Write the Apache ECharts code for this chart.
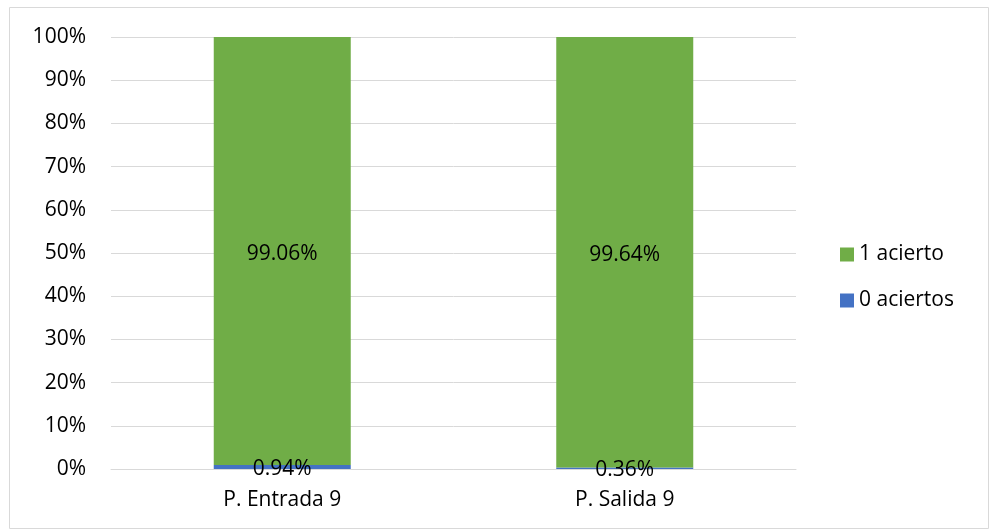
<!DOCTYPE html>
<html>
<head>
<meta charset="utf-8">
<script src="https://cdn.jsdelivr.net/npm/echarts@6/dist/echarts.min.js"></script>
<style>
  html, body { margin: 0; padding: 0; background: #fff; }
  #chart { width: 990px; height: 531px; }
</style>
</head>
<body>
<div id="chart"></div>
<script>
// datos del gráfico
const categories = ['P. Entrada 9', 'P. Salida 9'];
const ceroAciertos = [0.94, 0.36];
const unAcierto = [99.06, 99.64];
const yTicks = [0, 10, 20, 30, 40, 50, 60, 70, 80, 90, 100];

const font = '"Open Sans", sans-serif';
const fs = 21;

let myChart = echarts.init(document.getElementById('chart'));

myChart.setOption({
    animation: false,
    textStyle: {fontFamily: font},
    graphic: [{
        type: 'rect',
        shape: {x: 9.5, y: 7.5, width: 979, height: 521},
        style: {fill: 'none', stroke: '#d9d9d9', lineWidth: 1}
    }],
    grid: {left: 111, right: 194, top: 37, bottom: 62},
    legend: {
        orient: 'vertical',
        left: 835,
        top: 239,
        itemGap: 25,
        itemWidth: 14,
        itemHeight: 14,
        icon: 'rect',
        data: ['1 acierto', '0 aciertos'],
        textStyle: {fontSize: fs, color: '#000', fontFamily: font, padding: [0, 0, 0, 0]}
    },
    xAxis: {
        type: 'category',
        data: categories,
        axisTick: {show: false},
        axisLine: {lineStyle: {color: '#d9d9d9', width: 1}},
        axisLabel: {fontSize: fs, color: '#000', margin: 21}
    },
    yAxis: {
        type: 'value',
        min: 0,
        max: 100,
        interval: 10,
        axisLine: {show: false},
        axisTick: {show: false},
        splitLine: {lineStyle: {color: '#d9d9d9', width: 1}},
        axisLabel: {
            fontSize: fs, color: '#000', margin: 25, padding: [3, 0, 0, 0],
            formatter: v => yTicks.includes(v) ? v + '%' : ''
        }
    },
    series: [{
        name: '0 aciertos',
        type: 'bar',
        stack: 'total',
        barWidth: '40%',
        data: ceroAciertos,
        itemStyle: {color: '#4472C4'},
        label: {
            show: true, position: 'inside', fontSize: fs, color: '#000',
            offset: [0, 2],
            formatter: p => p.value.toFixed(2) + '%'
        }
    }, {
        name: '1 acierto',
        type: 'bar',
        stack: 'total',
        barWidth: '40%',
        data: unAcierto,
        itemStyle: {color: '#70AD47'},
        label: {
            show: true, position: 'inside', fontSize: fs, color: '#000',
            offset: [0, 3],
            formatter: p => p.value.toFixed(2) + '%'
        }
    }]
});
</script>
</body>
</html>
